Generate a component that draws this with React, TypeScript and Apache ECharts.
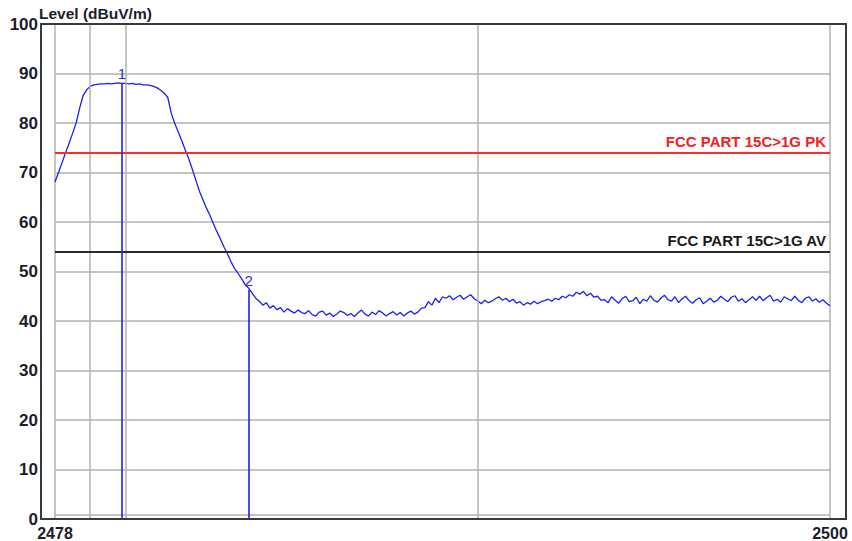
import React, { useEffect, useRef } from "react";
import * as echarts from "echarts";

// Sweep: 2478 MHz to 2500 MHz, one reading every 0.1 MHz
const startFreq = 2478;
const stepFreq = 0.1;
const levels: number[] = [
  68.1, 70.0, 72.0, 74.0, 75.9, 77.9, 80.0, 83.0, 85.6, 86.7,
  87.4, 87.7, 87.8, 87.9, 87.9, 88.0, 87.9, 88.0, 88.1, 88.0,
  88.0, 87.9, 88.0, 87.8, 87.9, 87.7, 87.7, 87.6, 87.4, 87.1,
  86.6, 86.0, 85.2, 82.0, 79.9, 78.2, 76.4, 74.5, 72.7, 70.6,
  68.4, 66.2, 64.5, 62.8, 61.3, 59.6, 58.0, 56.5, 54.9, 53.5,
  51.9, 50.6, 49.6, 48.5, 47.3, 46.6,
  45.6, 44.6, 44.0, 43.2, 43.7, 42.6, 43.1, 42.3, 42.7, 41.8,
  42.5, 42.0, 41.6, 42.2, 41.7,
  41.5, 42.1, 41.3, 41.0, 41.8, 42.0, 41.2, 41.6, 40.9, 41.4,
  42.0, 41.7, 41.1, 41.5, 40.9, 41.6, 42.2, 41.4, 41.0, 41.8,
  41.3, 42.1, 41.6, 41.0, 41.5, 41.9, 41.2, 41.7, 41.0, 41.6,
  42.0, 41.4, 41.8,
  42.6, 42.7, 43.9, 43.2, 44.6, 43.7, 44.9,
  44.6, 45.1, 44.3, 44.8, 45.2, 44.4, 44.9, 45.3, 44.5, 44.1,
  43.5, 44.2, 43.7, 44.0, 44.5, 44.9, 44.2, 44.6, 43.9, 44.4,
  43.6, 43.9, 43.2, 43.7, 43.4, 44.0, 43.5, 43.9, 44.1, 44.4,
  44.0, 44.6, 44.3, 45.0, 44.7, 45.3, 45.0, 45.8, 45.4, 46.0,
  45.1, 45.6, 44.8, 45.0, 44.2,
  44.3, 43.7, 44.9, 44.2, 43.6, 44.5, 45.0, 43.9, 44.1, 44.8,
  43.5, 44.4, 44.0, 45.1, 44.2,
  43.8, 44.6, 45.2, 44.3, 44.0, 44.9, 43.7, 44.5, 45.0, 44.1,
  43.6, 44.3, 44.7, 43.5, 44.0,
  44.6, 43.8, 44.2, 45.0, 44.4, 43.9, 44.8, 45.1, 44.0, 44.5,
  43.7, 44.3, 44.9, 44.2, 45.0,
  44.1, 44.7, 45.2, 44.0, 44.4, 43.8, 44.9, 44.5, 44.1, 45.0,
  44.2, 43.7, 44.6, 44.9, 44.0, 44.5, 43.8, 44.3, 43.6, 43.1,
];

const xMin = 2478;
const xMax = 2500;
const xTickLabels = [2478, 2500];
const extraGridFreqs = [2479, 2480, 2490];

const limitNames = ["FCC PART 15C>1G PK", "FCC PART 15C>1G AV"];
const limitValues = [74, 54];
const limitColors = ["#ff2b2b", "#2a2a2a"];
const limitTextColors = ["#ee2222", "#1a1a1a"];

const markerLabels = ["1", "2"];
const markerFreqs = [2479.9, 2483.5];
const markerLevels = [88.0, 46.3];

const yTitle = "Level (dBuV/m)";

export default function App() {
  const ref = useRef<HTMLDivElement>(null);

  useEffect(() => {
    if (!ref.current) return;
    const chart = echarts.init(ref.current, undefined, { renderer: "svg" });

    const traceData = levels.map((v, i) => [
      +(startFreq + i * stepFreq).toFixed(2),
      v,
    ]);

    const textColor = "#1c1c2c";
    const gridGray = "#b2b2b2";
    const font = "Liberation Sans, Arial, sans-serif";

    const option: any = {
      animation: false,
      backgroundColor: "#ffffff",
      title: {
        text: yTitle,
        left: 39,
        top: 5,
        padding: 0,
        textStyle: {
          fontSize: 15.5,
          fontWeight: "bold",
          color: textColor,
          fontFamily: font,
        },
      },
      grid: {
        left: 55,
        right: 22,
        top: 24,
        bottom: 22,
        show: true,
        borderColor: gridGray,
        borderWidth: 1.5,
        containLabel: false,
      },
      xAxis: {
        type: "value",
        min: xMin,
        max: xMax,
        interval: xMax - xMin,
        axisLine: { show: false },
        axisTick: { show: false },
        splitLine: { show: false },
        axisLabel: {
          margin: 6,
          fontSize: 16,
          fontWeight: "bold",
          color: textColor,
          fontFamily: font,
          formatter: (v: number) =>
            xTickLabels.indexOf(Math.round(v)) >= 0 ? String(Math.round(v)) : "",
        },
      },
      yAxis: {
        type: "value",
        min: 0,
        max: 100,
        interval: 10,
        axisLine: { show: false },
        axisTick: { show: false },
        splitLine: { show: true, lineStyle: { color: gridGray, width: 1.5 } },
        axisLabel: {
          margin: 17,
          fontSize: 17,
          fontWeight: "bold",
          color: textColor,
          fontFamily: font,
        },
      },
      graphic: [
        {
          type: "rect",
          shape: { x: 41, y: 24, width: 805, height: 495 },
          style: { fill: "none", stroke: "#3a3a3a", lineWidth: 2 },
          silent: true,
          z: 10,
        },
        {
          type: "line",
          shape: { x1: 55, y1: 515, x2: 830, y2: 515 },
          style: { stroke: gridGray, lineWidth: 1.5 },
          silent: true,
          z: 1,
        },
      ],
      series: [
        {
          type: "line",
          name: "grid",
          data: [],
          silent: true,
          z: 1,
          markLine: {
            silent: true,
            symbol: "none",
            label: { show: false },
            lineStyle: { color: gridGray, width: 1.5, type: "solid" },
            data: extraGridFreqs.map((f) => ({ xAxis: f })),
          },
        },
        ...limitNames.map((name, k) => ({
          type: "line",
          name,
          data: [],
          silent: true,
          z: 2,
          markLine: {
            silent: true,
            symbol: "none",
            lineStyle: { color: limitColors[k], width: 2, type: "solid" },
            label: {
              show: true,
              position: "insideEndTop",
              formatter: name,
              distance: [4, 4],
              fontSize: 15,
              fontWeight: "bold",
              color: limitTextColors[k],
              fontFamily: font,
            },
            data: [{ yAxis: limitValues[k] }],
          },
        })),
        {
          type: "line",
          name: "trace",
          data: traceData,
          showSymbol: false,
          symbol: "none",
          z: 4,
          lineStyle: { color: "#1e1ef5", width: 1.3 },
          markLine: {
            silent: true,
            symbol: "none",
            lineStyle: { color: "#1e1ef5", width: 1.6, type: "solid" },
            label: {
              show: true,
              position: "end",
              distance: 2,
              fontSize: 15,
              color: "#2a2af0",
              fontFamily: font,
            },
            data: markerLabels.map((lab, k) => [
              { coord: [markerFreqs[k], 0] },
              {
                coord: [markerFreqs[k], markerLevels[k]],
                label: { formatter: lab },
              },
            ]),
          },
        },
      ],
    };

    chart.setOption(option);
    return () => chart.dispose();
  }, []);

  return (
    <div
      ref={ref}
      style={{ position: "absolute", left: 0, top: 0, width: 852, height: 541 }}
    />
  );
}
